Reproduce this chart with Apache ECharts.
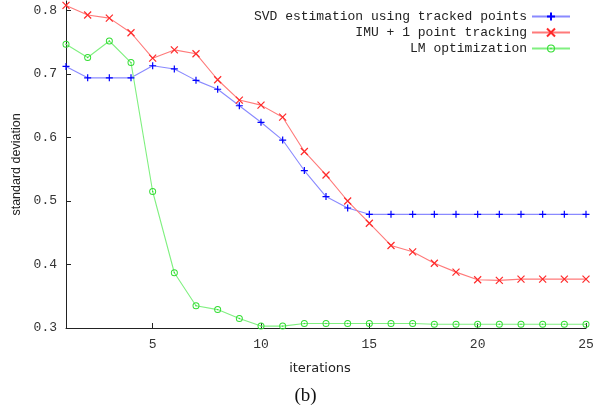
<!DOCTYPE html>
<html><head><meta charset="utf-8">
<script src="https://cdn.jsdelivr.net/npm/echarts@6/dist/echarts.min.js"></script>
<style>html,body{margin:0;padding:0;background:#fff}#c{width:611px;height:410px}</style>
</head><body><div id="c"></div>
<script>
const iterations = [1,2,3,4,5,6,7,8,9,10,11,12,13,14,15,16,17,18,19,20,21,22,23,24,25];
const svdValues = [0.712,0.694,0.694,0.694,0.713,0.708,0.690,0.676,0.650,0.624,0.596,0.548,0.507,0.489,0.479,0.479,0.479,0.479,0.479,0.479,0.479,0.479,0.479,0.479,0.479];
const imuValues = [0.808,0.793,0.788,0.765,0.725,0.738,0.732,0.691,0.659,0.651,0.632,0.578,0.541,0.500,0.465,0.430,0.420,0.402,0.388,0.376,0.375,0.377,0.377,0.377,0.377];
const lmValues = [0.747,0.726,0.752,0.718,0.515,0.387,0.335,0.329,0.315,0.303,0.303,0.307,0.307,0.307,0.307,0.307,0.307,0.306,0.306,0.306,0.306,0.306,0.306,0.306,0.306];
const seriesNames = ['SVD estimation using tracked points','IMU + 1 point tracking','LM optimization'];
const xTicks = [5,10,15,20,25];
const yTicks = [0.3,0.4,0.5,0.6,0.7,0.8];

const pair = v => iterations.map((x,i)=>[x,v[i]]);
const mono = '"Liberation Mono","DejaVu Sans Mono",monospace';
const sans = '"Liberation Sans",Arial,sans-serif';
const dsans = '"DejaVu Sans",Verdana,sans-serif';
const plusPath = 'path://M0,5 L10,5 M5,0 L5,10';
const crossPath = 'path://M0,0 L10,10 M10,0 L0,10';
const ringPath = 'path://M0,5 A5,5 0 1,0 10,5 A5,5 0 1,0 0,5 Z M1.4,5 A3.6,3.6 0 1,1 8.6,5 A3.6,3.6 0 1,1 1.4,5 Z M4,5 A1,1 0 1,0 6,5 A1,1 0 1,0 4,5 Z';

function legend(name, top){
  return {show:true, data:[name], right:40, top:top, orient:'vertical', align:'right',
    itemWidth:38, itemHeight:10, itemGap:0, padding:0, selectedMode:false,
    textStyle:{fontFamily:mono, fontSize:13, color:'#222'}};
}

const chart = echarts.init(document.getElementById('c'), null, {renderer:'canvas'});
chart.setOption({
  animation:false,
  backgroundColor:'#fff',
  grid:{left:66, right:25, top:1, bottom:82, containLabel:false},
  legend:[legend(seriesNames[0],10), legend(seriesNames[1],26), legend(seriesNames[2],42)],
  xAxis:{type:'value', min:1, max:25,
    name:'iterations', nameLocation:'middle', nameGap:34,
    nameTextStyle:{fontFamily:dsans, fontSize:13, color:'#222', padding:[0,12,0,0]},
    axisLine:{show:true, lineStyle:{color:'#222', width:1}},
    axisTick:{show:true, inside:true, length:5, customValues:xTicks, lineStyle:{color:'#222'}},
    axisLabel:{customValues:xTicks, fontFamily:mono, fontSize:13, color:'#333', margin:10},
    splitLine:{show:false}},
  yAxis:{type:'value', min:0.3, max:0.815,
    name:'standard deviation', nameLocation:'middle', nameGap:39,
    nameTextStyle:{fontFamily:sans, fontSize:12.5, color:'#222'},
    axisLine:{show:true, lineStyle:{color:'#222', width:1}},
    axisTick:{show:true, inside:true, length:5, customValues:yTicks, lineStyle:{color:'#222'}},
    axisLabel:{customValues:yTicks, fontFamily:mono, fontSize:13, color:'#333', margin:9,
      formatter:v=>v.toFixed(1)},
    splitLine:{show:false}},
  graphic:[{type:'text', left:'center', top:387, style:{text:'(b)', font:'19px "Liberation Serif","Times New Roman",serif', fill:'#111'}}],
  series:[
    {name:seriesNames[0], type:'line', data:pair(svdValues), symbol:plusPath, symbolSize:7, showAllSymbol:true,
      lineStyle:{color:'#8a8aff', width:1.1}, itemStyle:{color:'#0000ff', borderColor:'#0000ff', borderWidth:1.2}},
    {name:seriesNames[1], type:'line', data:pair(imuValues), symbol:crossPath, symbolSize:7, showAllSymbol:true,
      lineStyle:{color:'#ff7a7a', width:1.1}, itemStyle:{color:'#ff2a2a', borderColor:'#ff2a2a', borderWidth:1.2}},
    {name:seriesNames[2], type:'line', data:pair(lmValues), symbol:ringPath, symbolSize:7, showAllSymbol:true,
      lineStyle:{color:'#80f080', width:1.1}, itemStyle:{color:'#33dd33', borderWidth:0}}
  ]
});
</script></body></html>
